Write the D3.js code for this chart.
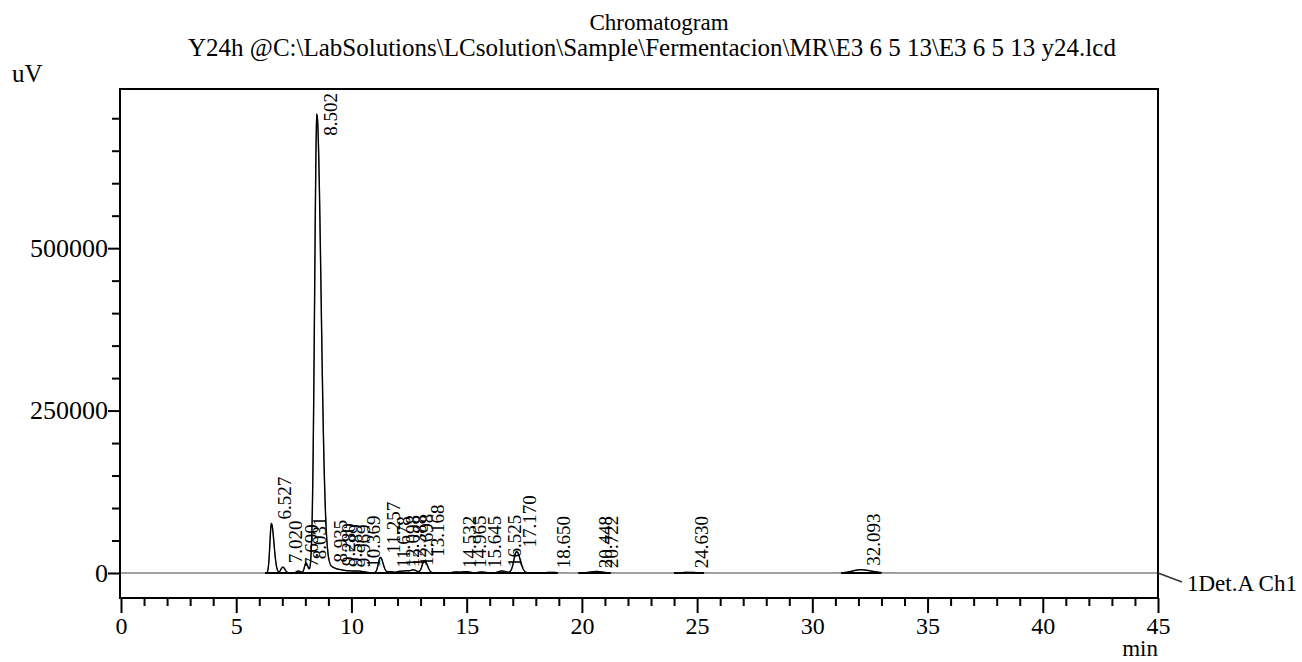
<!DOCTYPE html>
<html>
<head>
<meta charset="utf-8">
<script src="https://cdn.jsdelivr.net/npm/d3@7"></script>
<style>
  html, body { margin: 0; padding: 0; background: #fff; }
  svg { display: block; font-family: "Liberation Serif", "Times New Roman", serif; }
</style>
</head>
<body>
<svg id="chart" width="1302" height="662"></svg>
<script>
// Peak table (retention time in min, apex height in uV, width as sigma in min, tailing factor)
const peakTimes   = [6.527, 7.020, 7.690, 8.031, 8.502, 8.935, 9.280, 9.589, 9.969, 10.369,
                     11.257, 11.678, 12.098, 12.388, 12.698, 13.168, 14.532, 14.965, 15.645,
                     16.525, 17.170, 18.650, 20.448, 20.722, 24.630, 32.093];
const peakHeights = [76000, 9000, 3000, 15000, 705000, 10000, 4500, 3000, 2500, 2000,
                     24000, 2000, 2500, 3000, 4500, 19000, 1500, 2000, 1500,
                     3000, 33000, 1000, 1200, 1500, 1000, 5000];
const peakWidths  = [0.065, 0.08, 0.08, 0.07, 0.1, 0.15, 0.15, 0.15, 0.2, 0.2,
                     0.09, 0.12, 0.12, 0.12, 0.12, 0.1, 0.15, 0.15, 0.15,
                     0.15, 0.12, 0.2, 0.2, 0.2, 0.25, 0.35];
const peakTails   = [1.7, 1.2, 1.2, 1.2, 1.8, 1.4, 1.3, 1.3, 1.3, 1.3,
                     1.3, 1.2, 1.2, 1.2, 1.2, 1.3, 1.2, 1.2, 1.2,
                     1.2, 1.3, 1.2, 1.2, 1.2, 1.2, 1.3];

// Integration windows (min) where the trace is drawn as integrated
const windowStarts = [6.25, 19.85, 24.0, 31.25];
const windowEnds   = [18.95, 21.25, 25.3, 33.0];

// Axis ticks
const xMajorTicks = [0, 5, 10, 15, 20, 25, 30, 35, 40, 45];
const yMajorTicks = [0, 250000, 500000];

const titleLine1 = "Chromatogram";
const titleLine2 = "Y24h @C:\\LabSolutions\\LCsolution\\Sample\\Fermentacion\\MR\\E3 6 5 13\\E3 6 5 13 y24.lcd";
const channelName = "1Det.A Ch1";

const svg = d3.select("#chart");
const plot = { left: 120, right: 1158, top: 89, bottom: 598 };

const x = d3.scaleLinear().domain([0, 45]).range([121, 1158]);
const y = d3.scaleLinear().domain([-38500, 745000]).range([598, 89]);

// Detector signal: sum of skewed peaks from the peak table (sampled every 0.01 min)
function signal(t) {
  let v = 0;
  for (let i = 0; i < peakTimes.length; i++) {
    const s = t < peakTimes[i] ? peakWidths[i] : peakWidths[i] * peakTails[i];
    const d = (t - peakTimes[i]) / s;
    v += peakHeights[i] * Math.exp(-0.5 * d * d);
  }
  return v;
}
const times = d3.range(0, 45.0001, 0.01);
const trace = times.map(t => ({ t, v: signal(t) }));

// Zero line and full trace in grey
svg.append("line")
  .attr("x1", x(0)).attr("x2", x(45))
  .attr("y1", y(0)).attr("y2", y(0))
  .attr("stroke", "#a0a0a0").attr("stroke-width", 1.6);

const line = d3.line().x(d => x(d.t)).y(d => y(d.v));

svg.append("path")
  .datum(trace)
  .attr("fill", "none")
  .attr("stroke", "#8c8c8c")
  .attr("stroke-width", 1.2)
  .attr("d", line);

// Integrated regions in black with their baselines
windowStarts.forEach((s, i) => {
  const seg = trace.filter(d => d.t >= s && d.t <= windowEnds[i]);
  svg.append("path")
    .datum(seg)
    .attr("fill", "none")
    .attr("stroke", "#000")
    .attr("stroke-width", 1.4)
    .attr("d", line);
  svg.append("line")
    .attr("x1", x(s)).attr("x2", x(windowEnds[i]))
    .attr("y1", y(0)).attr("y2", y(0))
    .attr("stroke", "#000").attr("stroke-width", 1.8);
});

// Peak retention-time labels, rotated, starting just above each apex
const labelSize = 19;
const labelG = svg.append("g")
  .attr("font-size", labelSize)
  .attr("fill", "#000");
peakTimes.forEach((t, i) => {
  const txt = t.toFixed(3);
  const approxLen = (txt.length - 1) * 0.5 * labelSize + 0.25 * labelSize;
  let bottom = y(peakHeights[i]) - 4;
  if (bottom - approxLen < plot.top + 4) bottom = plot.top + 4 + approxLen;
  labelG.append("text")
    .attr("transform", `translate(${x(t) + 13},${bottom}) rotate(-90)`)
    .attr("dy", "0.35em")
    .text(txt);
});

// Frame
svg.append("rect")
  .attr("x", plot.left).attr("y", plot.top)
  .attr("width", plot.right - plot.left).attr("height", plot.bottom - plot.top)
  .attr("fill", "none").attr("stroke", "#000").attr("stroke-width", 2);

// X axis: minor every minute, major every 5 min
const xAxis = d3.axisBottom(x)
  .tickValues(d3.range(0, 46, 1))
  .tickSize(8)
  .tickFormat(d => (xMajorTicks.includes(d) ? d : ""));
const gx = svg.append("g")
  .attr("transform", `translate(0,${plot.bottom})`)
  .call(xAxis);
gx.select(".domain").remove();
gx.selectAll(".tick line")
  .attr("stroke-width", 2)
  .attr("y2", d => (xMajorTicks.includes(d) ? 15 : 8));
gx.selectAll(".tick text")
  .attr("y", 19)
  .attr("dy", "0.71em")
  .attr("font-size", 24)
  .attr("font-family", "Liberation Serif, serif")
  .attr("fill", "#000");

// Y axis: minor every 50000, labels at 0, 250000, 500000
const yAxis = d3.axisLeft(y)
  .tickValues(d3.range(0, 700001, 50000))
  .tickSize(8)
  .tickFormat(d => (yMajorTicks.includes(d) ? d : ""));
const gy = svg.append("g")
  .attr("transform", `translate(${plot.left},0)`)
  .call(yAxis);
gy.select(".domain").remove();
gy.selectAll(".tick line")
  .attr("stroke-width", 2)
  .attr("x2", d => (yMajorTicks.includes(d) ? -12 : -8));
gy.selectAll(".tick text")
  .attr("x", -12)
  .attr("font-size", 26)
  .attr("font-family", "Liberation Serif, serif")
  .attr("fill", "#000");

// Titles and axis units
svg.append("text").attr("x", 659).attr("y", 30)
  .attr("text-anchor", "middle").attr("font-size", 23).text(titleLine1);
svg.append("text").attr("x", 652).attr("y", 56)
  .attr("text-anchor", "middle").attr("font-size", 25).text(titleLine2);
svg.append("text").attr("x", 12).attr("y", 82)
  .attr("font-size", 25).text("uV");
svg.append("text").attr("x", plot.right).attr("y", 656)
  .attr("text-anchor", "end").attr("font-size", 23).text("min");

// Channel legend with leader line
svg.append("line")
  .attr("x1", plot.right).attr("y1", y(0))
  .attr("x2", plot.right + 24).attr("y2", y(0) + 9)
  .attr("stroke", "#333").attr("stroke-width", 1.5);
svg.append("text").attr("x", 1187).attr("y", 591)
  .attr("font-size", 23).text(channelName);
</script>
</body>
</html>
